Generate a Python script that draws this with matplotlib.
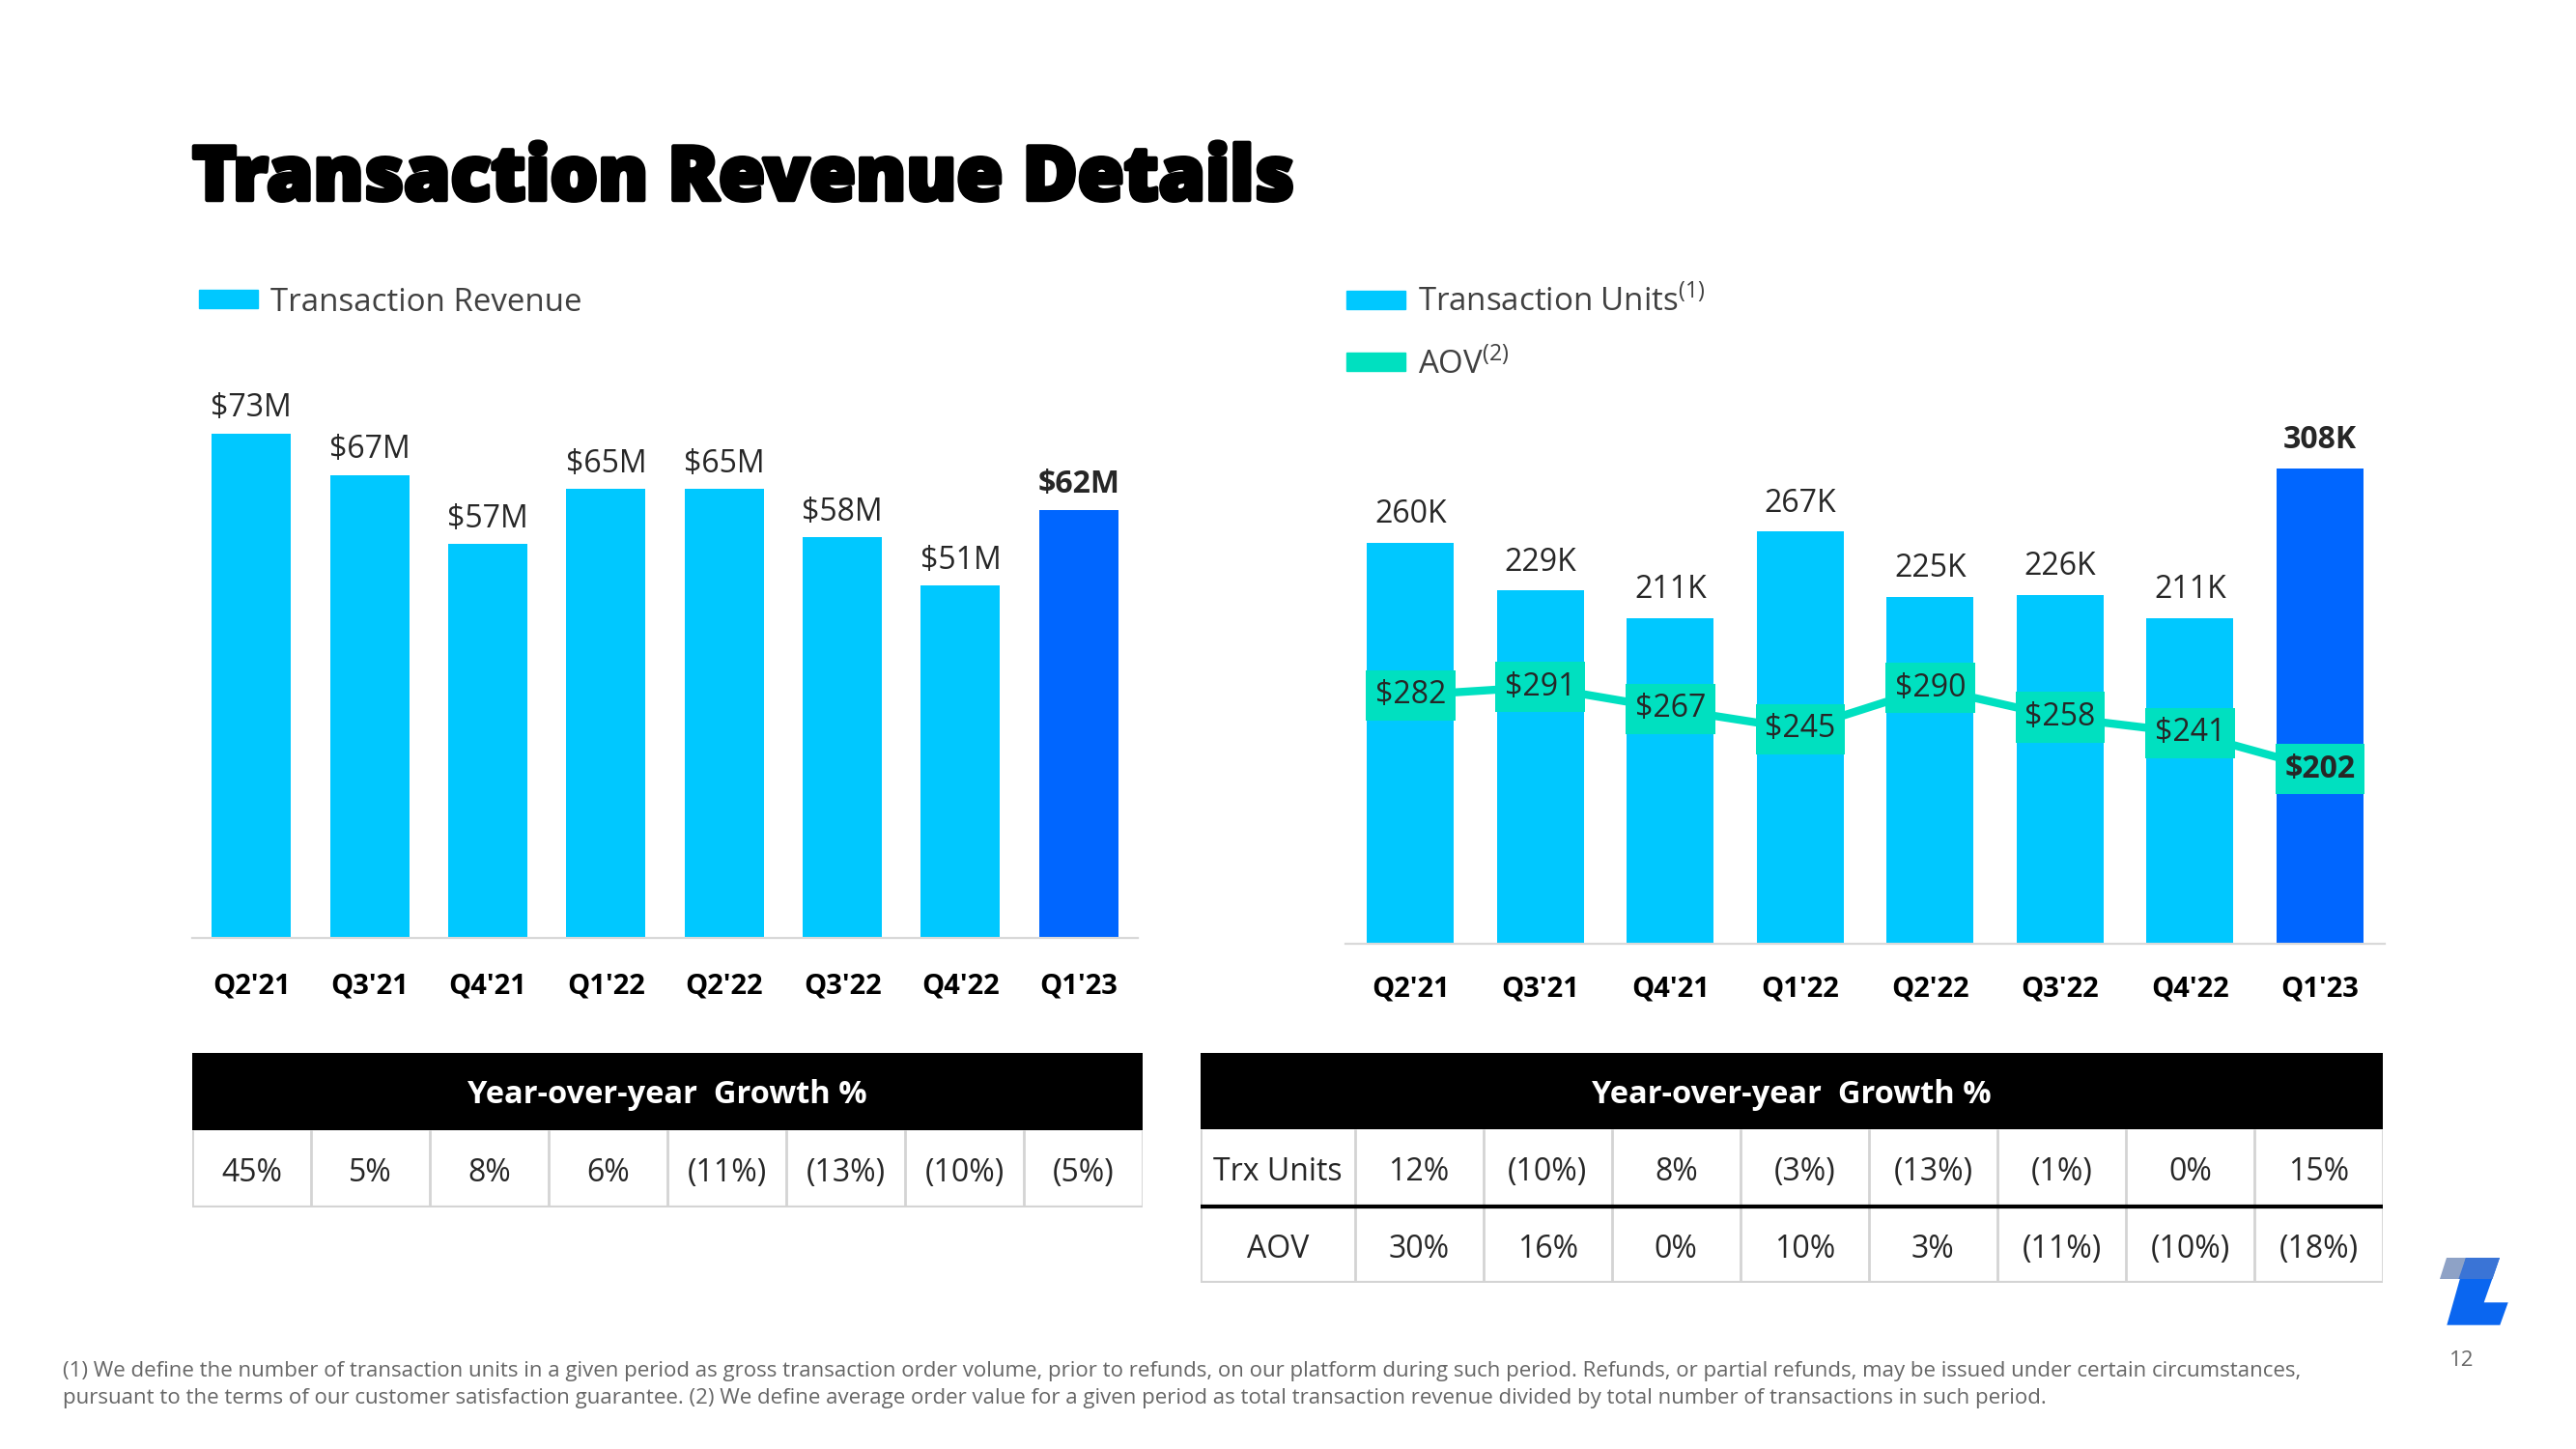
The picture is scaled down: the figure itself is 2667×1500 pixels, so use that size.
import matplotlib
matplotlib.use("Agg")
import matplotlib.pyplot as plt
from matplotlib.patches import Patch, Rectangle, Polygon
import matplotlib.patheffects as pe

plt.rcParams['font.family'] = ['Open Sans', 'DejaVu Sans']
plt.rcParams['mathtext.fontset'] = 'custom'
plt.rcParams['mathtext.rm'] = 'Open Sans'

# ---------------- data ----------------
quarters = ["Q2'21", "Q3'21", "Q4'21", "Q1'22", "Q2'22", "Q3'22", "Q4'22", "Q1'23"]
revenue_m = [73, 67, 57, 65, 65, 58, 51, 62]
units_k = [260, 229, 211, 267, 225, 226, 211, 308]
aov_usd = [282, 291, 267, 245, 290, 258, 241, 202]
rev_yoy = ["45%", "5%", "8%", "6%", "(11%)", "(13%)", "(10%)", "(5%)"]
units_yoy = ["12%", "(10%)", "8%", "(3%)", "(13%)", "(1%)", "0%", "15%"]
aov_yoy = ["30%", "16%", "0%", "10%", "3%", "(11%)", "(10%)", "(18%)"]
row_labels = ["Trx Units", "AOV"]

LIGHT = '#00C8FF'
DARK = '#0066FF'
TEAL = '#00E0C0'
GRID = '#D9D9D9'
TXT = '#262626'

W, H = 2667, 1500
fig = plt.figure(figsize=(W / 100, H / 100), dpi=100)
fig.patch.set_facecolor('white')


def px_axes(x0, x1, ytop, ybot):
    return fig.add_axes([x0 / W, 1 - ybot / H, (x1 - x0) / W, (ybot - ytop) / H])


def style_chart(ax, pad):
    for s in ['top', 'right', 'left']:
        ax.spines[s].set_visible(False)
    ax.spines['bottom'].set_color(GRID)
    ax.spines['bottom'].set_linewidth(1.6)
    ax.set_yticks([])
    ax.tick_params(axis='x', length=0, pad=pad)
    ax.set_xlim(-0.5, 7.5)
    ax.set_xticks(range(len(quarters)))
    ax.set_xticklabels(quarters, fontsize=21, fontweight='bold', color='black')
    ax.patch.set_alpha(0)


n = len(quarters)
colors = [LIGHT] * (n - 1) + [DARK]

# ---------------- title ----------------
fig.text(199 / W, 1 - 207 / H, "Transaction Revenue Details", fontsize=56,
         fontweight='heavy', color='black', ha='left', va='baseline',
         path_effects=[pe.withStroke(linewidth=3.2, foreground='black')])

# ---------------- left chart ----------------
axl = px_axes(199, 1178, 400, 971)
axl.bar(range(n), revenue_m, width=0.67, color=colors, zorder=2)
axl.set_ylim(0, 571 / 7.15)
style_chart(axl, 25.5)
for i, v in enumerate(revenue_m):
    axl.annotate(f"${v}M", (i, v), xytext=(0, 7), textcoords='offset points',
                 ha='center', va='bottom', fontsize=23, color=TXT,
                 fontweight='bold' if i == n - 1 else 'normal')
axl.legend(handles=[Patch(color=LIGHT, label='Transaction Revenue')],
           loc='center left', bbox_to_anchor=(206 / W, 1 - 313 / H),
           bbox_transform=fig.transFigure, frameon=False, fontsize=23.8,
           handlelength=1.85, handleheight=0.5, handletextpad=0.4,
           borderpad=0, borderaxespad=0, labelcolor='#404040')

# ---------------- right chart ----------------
axr = px_axes(1393, 2469, 420, 977.5)
axr.bar(range(n), units_k, width=0.67, color=colors, zorder=2)
axr.set_ylim(0, 557.5 / 1.6)
style_chart(axr, 23)
for i, v in enumerate(units_k):
    axr.annotate(f"{v}K", (i, v), xytext=(0, 9), textcoords='offset points',
                 ha='center', va='bottom', fontsize=23, color=TXT,
                 fontweight='bold' if i == n - 1 else 'normal')

ax2 = axr.twinx()
ax2.set_ylim(12, 12 + 557.5 / 0.955)
ax2.axis('off')
ax2.plot(range(n), aov_usd, color=TEAL, lw=6, zorder=2, solid_capstyle='butt')
for i, v in enumerate(aov_usd):
    ax2.text(i, v, f"${v}", ha='center', va='center', fontsize=23, color=TXT,
             fontweight='bold' if i == n - 1 else 'normal', zorder=3,
             bbox=dict(boxstyle='square,pad=0.3', fc=TEAL, ec='none'))

axr.legend(handles=[Patch(color=LIGHT, label=r'Transaction Units$^{\mathregular{(1)}}$'),
                    Patch(color=TEAL, label=r'AOV$^{\mathregular{(2)}}$')],
           loc='center left', bbox_to_anchor=(1394 / W, 1 - 345 / H),
           bbox_transform=fig.transFigure, frameon=False, fontsize=23.8,
           handlelength=1.85, handleheight=0.5, handletextpad=0.4,
           labelspacing=0.9, borderpad=0, borderaxespad=0, labelcolor='#404040')

# ---------------- tables ----------------
BORDER = '#D4D4D4'


def draw_table(ax, col_edges, rows, first_col=None, mid_black=False):
    ax.set_xlim(col_edges[0], col_edges[-1])
    nrows = len(rows) + 1
    ax.set_ylim(nrows, 0)
    ax.axis('off')
    # header
    ax.add_patch(Rectangle((col_edges[0], 0), col_edges[-1] - col_edges[0], 1,
                           fc='black', ec='none'))
    ax.text((col_edges[0] + col_edges[-1]) / 2, 0.55, "Year-over-year  Growth %",
            ha='center', va='center', color='white', fontsize=23.5, fontweight='bold')
    for r, vals in enumerate(rows):
        y0 = r + 1
        cells = ([first_col[r]] if first_col else []) + list(vals)
        for c, t in enumerate(cells):
            ax.text((col_edges[c] + col_edges[c + 1]) / 2, y0 + 0.56, t,
                    ha='center', va='center', fontsize=23, color=TXT)
        for e in col_edges:
            ax.plot([e, e], [y0, y0 + 1], color=BORDER, lw=2, solid_capstyle='butt')
    ax.plot([col_edges[0], col_edges[-1]], [nrows, nrows], color=BORDER, lw=3)
    if mid_black:
        ax.plot([col_edges[0], col_edges[-1]], [2, 2], color='black', lw=3)


axt1 = px_axes(199, 1183, 1090, 1250)
draw_table(axt1, list(range(0, 9)), [rev_yoy])

axt2 = px_axes(1243, 2467, 1090, 1328)
edges2 = [0, 1.2] + [1.2 + k for k in range(1, 9)]
draw_table(axt2, edges2, [units_yoy, aov_yoy], first_col=row_labels, mid_black=True)

# ---------------- footnote ----------------
foot1 = ("(1) We define the number of transaction units in a given period as gross transaction order "
         "volume, prior to refunds, on our platform during such period. Refunds, or partial refunds, "
         "may be issued under certain circumstances,")
foot2 = ("pursuant to the terms of our customer satisfaction guarantee. (2) We define average order value "
         "for a given period as total transaction revenue divided by total number of transactions in such period.")
fig.text(65 / W, 1 - 1419 / H, foot1, fontsize=16, color='#666666', ha='left', va='center')
fig.text(65 / W, 1 - 1448 / H, foot2, fontsize=16, color='#666666', ha='left', va='center')
fig.text(2549 / W, 1 - 1409 / H, "12", fontsize=16, color='#666666', ha='center', va='center')

# ---------------- logo ----------------
def fpoly(pts, color):
    fig.patches.append(Polygon([(x / W, 1 - y / H) for x, y in pts], closed=True,
                               transform=fig.transFigure, fc=color, ec='none'))


fpoly([(2533, 1302), (2562, 1302), (2555, 1324), (2526, 1324)], '#8EA2C6')
fpoly([(2553, 1302), (2588, 1302), (2571.7, 1348.3), (2596.7, 1348.3),
       (2588.3, 1371.7), (2533.3, 1371.7)], '#0A66F0')
fpoly([(2553, 1302), (2588, 1302), (2580.5, 1324), (2545.4, 1324)], '#3A74D6')

fig.savefig('out.png', dpi=100, facecolor='white')
